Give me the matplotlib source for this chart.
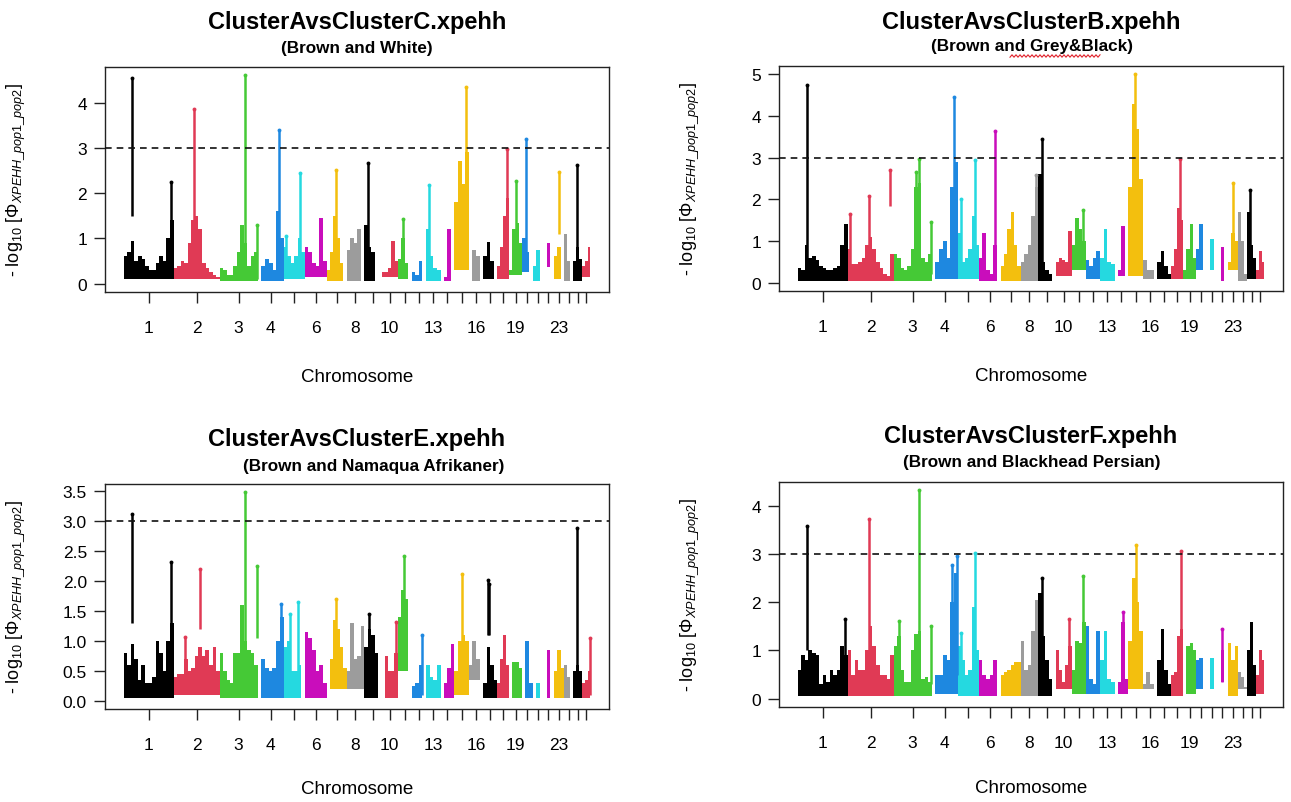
import numpy as np
import matplotlib.pyplot as plt
from matplotlib.lines import Line2D
from matplotlib.ticker import FormatStrFormatter

plt.rcParams["font.family"] = ["Liberation Sans", "DejaVu Sans"]
plt.rcParams["mathtext.fontset"] = "custom"
plt.rcParams["mathtext.rm"] = "Liberation Sans"
plt.rcParams["mathtext.it"] = "Liberation Sans:italic"
plt.rcParams["mathtext.bf"] = "Liberation Sans:bold"

# chromosome lengths (Mb, as spaced on the x axis)
chrom_len = [280, 258, 213, 146, 118, 123, 112, 98, 98, 90, 78, 81, 81,
             78, 81, 81, 76, 70, 70, 62, 56, 62, 56, 52, 50, 46]
tick_labels = ["1", "2", "3", "4", "", "6", "", "8", "", "10", "", "", "13",
               "", "", "16", "", "", "19", "", "", "", "23", "", "", ""]
palette = ["#000000", "#E03A55", "#45C936", "#1E88E0", "#25D9E0",
           "#C90DBB", "#F3BF0E", "#9C9C9C"]

# body of each chromosome: top of the dense cloud, evenly along the chromosome
c_body = [
    [0.6, 0.7, 0.95, 0.5, 0.6, 0.55, 0.4, 0.3, 0.3, 0.45, 0.6, 0.5, 1.0, 1.4],
    [0.35, 0.4, 0.5, 0.45, 0.9, 1.4, 1.5, 1.2, 0.45, 0.35, 0.25, 0.2, 0.1],
    [0.35, 0.3, 0.2, 0.2, 0.4, 0.7, 1.3, 0.9, 0.4, 0.6, 0.7],
    [0, 0.4, 0.55, 0.45, 0.3, 1.6, 1.0],
    [0.8, 0.6, 0.45, 0.6, 1.0, 0.7],
    [0.8, 0.7, 0.45, 0.4, 1.45, 0.5],
    [0.3, 0.7, 1.5, 1.0, 0.45, 0],
    [0.75, 1.0, 0.9, 1.2, 0],
    [1.3, 0.8, 0.7, 0, 0],
    [0.25, 0.25, 0.35, 0.95, 0.5],
    [0.55, 1.0, 0.45, 0],
    [0.25, 0.2, 0.5, 0],
    [1.2, 0.6, 0.35, 0.3],
    [0, 0.15, 1.2, 0],
    [1.8, 2.7, 2.2, 2.9],
    [0, 0.75, 0.6, 0],
    [0.6, 0.92, 0.5, 0],
    [0.4, 0.8, 1.5, 1.9],
    [0.3, 1.2, 1.35, 0.9],
    [1.0, 0.7, 0],
    [0.4, 0.75, 0],
    [0, 0.9, 0],
    [0.6, 0.8, 0],
    [1.1, 0.5, 0],
    [0.5, 0.8, 0.55],
    [0.4, 0.5, 0.8],
]
c_low = [0.1, 0.1, 0.05, 0.05, 0.1, 0.15, 0.05, 0.05, 0.05, 0.15, 0.1, 0.05, 0.05,
         0.05, 0.3, 0.05, 0.1, 0.1, 0.2, 0.25, 0.05, 0.37, 0.1, 0.05, 0.05, 0.15]
# (chromosome, relative position, low, top)
c_spikes = [
    (1, 0.17, 1.5, 4.55), (1, 0.94, 0.5, 2.25), (2, 0.44, 1.0, 3.85),
    (3, 0.67, 0.3, 4.6), (3, 0.99, 0.1, 1.3), (4, 0.83, 0.9, 3.4),
    (5, 0.12, 0.2, 1.05), (5, 0.78, 0.3, 2.45), (7, 0.47, 0.3, 2.5),
    (9, 0.22, 0.1, 2.67), (11, 0.4, 0.2, 1.43), (13, 0.2, 0.3, 2.17),
    (15, 0.78, 0.5, 4.35), (18, 0.81, 0.3, 2.97), (19, 0.53, 0.5, 2.27),
    (20, 0.35, 0.3, 3.19), (23, 0.48, 1.1, 2.46), (25, 0.41, 0.3, 2.62),
]

b_body = [
    [0.35, 0.3, 0.9, 0.6, 0.65, 0.55, 0.4, 0.35, 0.3, 0.3, 0.35, 0.4, 0.9, 1.4],
    [0.8, 0.45, 0.45, 0.5, 0.6, 0.9, 1.1, 0.8, 0.5, 0.35, 0.2, 0.15, 0.7],
    [0.7, 0.6, 0.35, 0.3, 0.4, 0.8, 2.3, 2.4, 0.6, 0.5, 0.7],
    [0, 0.5, 0.8, 1.0, 0.6, 2.3, 2.9],
    [1.2, 0.5, 0.6, 0.8, 1.6, 0.9],
    [0.6, 1.2, 0.3, 0.2, 0.9, 0],
    [0.4, 0.7, 1.3, 1.7, 0.9, 0.4],
    [0.5, 0.7, 0.9, 1.6, 2.3],
    [2.6, 0.5, 0.3, 0.2, 0],
    [0.5, 0.6, 0.55, 0.5, 1.25],
    [0.9, 1.55, 1.3, 1.0],
    [0.55, 0.4, 0.6, 0.75],
    [0.6, 1.3, 0.5, 0.45],
    [0, 0.3, 1.35, 0],
    [2.3, 4.3, 3.7, 2.5],
    [0.55, 0.3, 0.3, 0],
    [0.5, 0.75, 0.4, 0.2],
    [0.4, 0.8, 1.8, 1.5],
    [0.3, 0.8, 1.4, 0.6],
    [0.8, 1.4, 0],
    [0, 1.05, 0],
    [0, 0.85, 0],
    [0.5, 1.2, 1.0],
    [1.7, 1.0, 0.2],
    [1.7, 0.9, 0.6],
    [0.3, 0.75, 0.5],
]
b_low = [0.05, 0.05, 0.05, 0.1, 0.1, 0.05, 0.05, 0.05, 0.05, 0.15, 0.3, 0.1, 0.05,
         0.15, 0.15, 0.1, 0.1, 0.1, 0.1, 0.3, 0.3, 0.05, 0.3, 0.05, 0.1, 0.1]
b_spikes = [
    (1, 0.18, 0.3, 4.75), (2, 0.05, 0.2, 1.65), (2, 0.47, 0.3, 2.08),
    (2, 0.93, 1.85, 2.7), (3, 0.58, 0.8, 2.66), (3, 0.67, 0.5, 2.98),
    (3, 0.99, 0.2, 1.45), (4, 0.86, 0.8, 4.45), (5, 0.14, 0.2, 2.0),
    (5, 0.81, 0.3, 2.94), (6, 0.74, 0.6, 3.64), (8, 0.86, 0.3, 2.58),
    (9, 0.2, 0.2, 3.46), (11, 0.81, 0.4, 1.74), (15, 0.48, 0.5, 5.0),
    (18, 0.76, 0.3, 2.98), (23, 0.48, 0.4, 2.4), (25, 0.33, 0.3, 2.22),
]

e_body = [
    [0.8, 0.6, 0.95, 0.7, 0.35, 0.6, 0.3, 0.3, 0.4, 1.0, 0.8, 0.5, 1.0, 1.3],
    [0.4, 0.45, 0.45, 0.7, 0.5, 0.55, 0.75, 0.9, 0.75, 0.85, 0.6, 0.9, 0.5],
    [0.8, 0.5, 0.35, 0.3, 0.8, 0.8, 1.6, 1.0, 0.85, 0.8, 0.6],
    [0, 0.7, 0.55, 0.5, 0.55, 1.0, 1.4],
    [0.9, 1.0, 0.5, 0.5, 0.6, 0],
    [1.15, 1.05, 0.85, 0.5, 0.6, 0.3],
    [0, 0.7, 1.35, 1.2, 0.9, 0.55],
    [0.5, 1.3, 0.7, 0.75, 1.25],
    [0.9, 1.2, 1.1, 0.8, 0],
    [0, 0.75, 0.5, 0.5, 0.8],
    [1.4, 1.85, 1.7, 0],
    [0.25, 0.3, 0.6, 0],
    [0.6, 0.4, 0.35, 0.6],
    [0, 0.3, 0.55, 0.95],
    [0.5, 1.0, 1.1, 1.0],
    [0.6, 1.0, 0.7, 0],
    [0.3, 0.9, 0.6, 0.35],
    [0.3, 0.7, 1.1, 0.6],
    [0, 0.65, 0.65, 0.55],
    [0, 1.0, 0.3],
    [0, 0.3, 0],
    [0, 0.85, 0],
    [0.5, 0.85, 0.55],
    [0.6, 0.4, 0],
    [0.5, 0.6, 0.5],
    [0.3, 0.35, 0.5],
]
e_low = [0.05, 0.1, 0.05, 0.05, 0.05, 0.05, 0.2, 0.2, 0.05, 0.05, 0.5, 0.05, 0.05,
         0.05, 0.1, 0.35, 0.05, 0.05, 0.05, 0.05, 0.05, 0.05, 0.05, 0.05, 0.05, 0.05]
e_spikes = [
    (1, 0.17, 1.3, 3.11), (1, 0.94, 1.2, 2.32), (2, 0.24, 0.2, 1.07),
    (2, 0.57, 1.2, 2.2), (3, 0.67, 0.9, 3.48), (3, 0.98, 1.05, 2.25),
    (4, 0.9, 0.3, 1.62), (5, 0.29, 0.1, 1.45), (5, 0.67, 0.4, 1.65),
    (7, 0.47, 0.5, 1.7), (9, 0.28, 0.3, 1.45), (10, 0.9, 0.2, 1.32),
    (11, 0.45, 0.6, 2.42), (12, 0.74, 0.1, 1.1), (15, 0.53, 0.4, 2.12),
    (17, 0.32, 1.1, 2.02), (17, 0.42, 1.1, 1.95), (25, 0.44, 0.5, 2.89),
    (26, 0.9, 0.1, 1.05),
]

f_body = [
    [0.6, 0.9, 0.8, 1.0, 0.95, 0.9, 0.3, 0.5, 0.35, 0.6, 0.5, 0.6, 1.1, 0.9],
    [1.0, 0.5, 0.8, 0.6, 0.6, 1.0, 1.5, 1.1, 0.7, 0.5, 0.5, 0.4, 0.9],
    [1.1, 1.3, 0.6, 0.35, 0.35, 1.0, 1.35, 1.4, 0.4, 0.45, 0.35],
    [0, 0.5, 0.5, 0.9, 0.8, 2.0, 2.6],
    [1.1, 0.8, 0.5, 0.6, 1.9, 1.0],
    [0.8, 0.5, 0.4, 0.5, 0.8, 0],
    [0.5, 0.55, 0.6, 0.7, 0.75, 0.75],
    [1.2, 0.6, 0.7, 1.4, 2.05],
    [2.2, 1.3, 0.8, 0.4, 0],
    [1.0, 0.6, 0.35, 0.7, 1.1],
    [0.6, 1.2, 1.15, 1.6],
    [1.5, 0.4, 0.3, 1.4],
    [0.8, 1.4, 0.4, 0.35],
    [0, 0.35, 1.6, 0.4],
    [1.2, 2.5, 2.0, 1.4],
    [0.3, 0.55, 0.3, 0],
    [0.8, 1.45, 0.6, 0.3],
    [0.5, 0.55, 1.3, 1.45],
    [0, 1.1, 1.15, 1.0],
    [0.8, 0.85, 0],
    [0, 0.85, 0],
    [0, 1.0, 0],
    [1.15, 0.8, 1.1],
    [0.55, 0.45, 0.2],
    [1.0, 1.6, 0.7],
    [0.5, 1.0, 0.8],
]
f_low = [0.05, 0.05, 0.05, 0.1, 0.05, 0.05, 0.05, 0.05, 0.05, 0.2, 0.1, 0.1, 0.1,
         0.1, 0.2, 0.2, 0.05, 0.05, 0.1, 0.2, 0.2, 0.34, 0.05, 0.2, 0.05, 0.1]
f_spikes = [
    (1, 0.18, 1.0, 3.58), (1, 0.94, 0.3, 1.65), (2, 0.46, 0.5, 3.73),
    (3, 0.14, 0.3, 1.62), (3, 0.67, 0.5, 4.32), (3, 0.99, 0.3, 1.5),
    (4, 0.8, 0.5, 2.77), (4, 0.96, 0.5, 2.95), (5, 0.14, 0.2, 1.37),
    (5, 0.81, 0.5, 3.02), (9, 0.2, 0.3, 2.51), (10, 0.85, 0.3, 1.66),
    (11, 0.83, 0.3, 2.54), (14, 0.6, 0.3, 1.8), (15, 0.5, 0.5, 3.18),
    (18, 0.81, 0.3, 3.06), (22, 0.5, 0.34, 1.44),
]

W, H = 1291, 803
starts = np.concatenate([[0], np.cumsum(chrom_len)[:-1]])
total = float(sum(chrom_len))
centers = starts + np.array(chrom_len) / 2
ylab = r"- log$_{10}$ [$\Phi_{XPEHH\_pop1\_pop2}$]"


def draw_panel(ax, body, low, spikes, yticks, fmt):
    for k, vals in enumerate(body):
        vals = np.array(vals, float)
        n = len(vals)
        w = chrom_len[k] / n
        x = starts[k] + (np.arange(n) + 0.5) * w
        m = vals > 0
        ax.bar(x[m], np.maximum(vals[m] - low[k], 0.05), bottom=low[k],
               width=w * 1.03, color=palette[k % 8], linewidth=0, zorder=2)
    for c, rel, lo, hi in spikes:
        x = starts[c - 1] + rel * chrom_len[c - 1]
        col = palette[(c - 1) % 8]
        ax.vlines(x, lo, hi, colors=col, lw=1.8, zorder=2)
        ax.plot([x], [hi], "o", ms=2.8, color=col, mec="none", zorder=2)
    ymax = max(max(max(v) for v in body), max(s[3] for s in spikes))
    pad = 0.04 * ymax
    ax.set_ylim(-pad, ymax + pad)
    ax.set_xlim(-0.04 * total, 1.04 * total)
    ax.axhline(3, color="#111111", lw=1.2, ls=(0, (4, 3)), zorder=3)
    ax.set_xticks(centers, labels=tick_labels)
    ax.set_yticks(yticks)
    ax.yaxis.set_major_formatter(FormatStrFormatter(fmt))
    ax.tick_params(axis="both", direction="out", length=8, width=1.0,
                   color="#222222", labelsize=12.5)
    ax.tick_params(axis="x", pad=12)
    ax.tick_params(axis="y", pad=5)
    for s in ax.spines.values():
        s.set_linewidth(1.0)
        s.set_color("#222222")


fig = plt.figure(figsize=(W / 100, H / 100), dpi=100)

panels = [
    (c_body, c_low, c_spikes, (105, 68, 609, 293), [0, 1, 2, 3, 4], "%d",
     "ClusterAvsClusterC.xpehh", (357, 22), "(Brown and White)", (357, 48), 0.336),
    (b_body, b_low, b_spikes, (779, 67, 1283, 292), [0, 1, 2, 3, 4, 5], "%d",
     "ClusterAvsClusterB.xpehh", (1031, 22), "(Brown and Grey&Black)", (1032, 47), 0.336),
    (e_body, e_low, e_spikes, (105, 485, 609, 710),
     [0, 0.5, 1.0, 1.5, 2.0, 2.5, 3.0, 3.5], "%.1f",
     "ClusterAvsClusterE.xpehh", (357, 440), "(Brown and Namaqua Afrikaner)", (374, 467), 0.315),
    (f_body, f_low, f_spikes, (779, 483, 1283, 708), [0, 1, 2, 3, 4], "%d",
     "ClusterAvsClusterF.xpehh", (1031, 437), "(Brown and Blackhead Persian)", (1032, 463), 0.318),
]

for body, low, spikes, box, yt, fmt, title, tpos, sub, spos, xl in panels:
    l, t, r, b = box
    ax = fig.add_axes([l / W, 1 - b / H, (r - l) / W, (b - t) / H])
    draw_panel(ax, body, low, spikes, yt, fmt)
    ax.set_xlabel("Chromosome", fontsize=13.5)
    ax.xaxis.set_label_coords(0.5, -xl)
    ax.set_ylabel(ylab, fontsize=13)
    ax.yaxis.set_label_coords(-0.155, 0.5)
    fig.text(tpos[0] / W, 1 - tpos[1] / H, title, ha="center", va="center",
             fontsize=17, fontweight="bold")
    fig.text(spos[0] / W, 1 - spos[1] / H, sub, ha="center", va="center",
             fontsize=12.3, fontweight="bold")

# spell-check squiggle under "Grey&Black"
xs = np.arange(1010, 1102, 2.0)
ys = 57 + 1.2 * np.where(np.arange(len(xs)) % 2 == 0, 1, -1)
fig.add_artist(Line2D(xs / W, 1 - ys / H, color="#E0202A", lw=0.8,
                      transform=fig.transFigure))

fig.savefig("out.png", dpi=100)
